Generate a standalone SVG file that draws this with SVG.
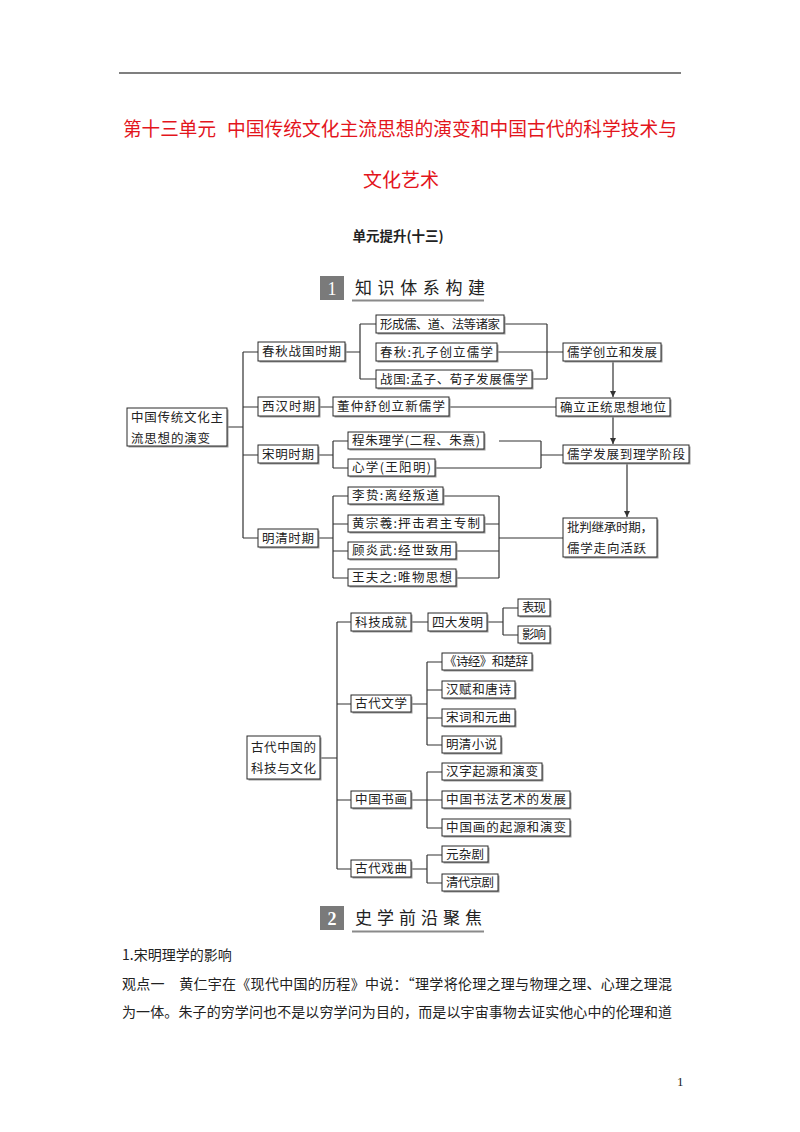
<svg xmlns="http://www.w3.org/2000/svg" width="800" height="1132" viewBox="0 0 800 1132">
<style>
.sh{fill:#9a9a9a}
.bx{fill:#fff;stroke:#2a2a2a;stroke-width:1}
.t{font-family:"Noto Sans CJK SC","Noto Sans CJK TC",sans-serif;font-size:12.5px;fill:#222}
.ln{fill:none;stroke:#333;stroke-width:1.2}
.title{font-family:"Noto Sans CJK SC",sans-serif;font-size:19px;fill:#e3151c}
.body{font-family:"Noto Sans CJK SC",sans-serif;font-size:14px;fill:#222}
.hd{font-family:"Noto Sans CJK SC",sans-serif;font-size:17px;fill:#222}
.num{font-family:"Liberation Serif",serif;font-size:18px;fill:#fff}
</style>
<defs>
<marker id="ar" viewBox="0 0 8 8" refX="8" refY="4" markerWidth="6" markerHeight="6" orient="auto" markerUnits="userSpaceOnUse">
<path d="M0,0 L8,4 L0,8 Z" fill="#333"/>
</marker>
</defs>
<rect width="800" height="1132" fill="#fff"/>
<line x1="119" y1="73" x2="681" y2="73" stroke="#555" stroke-width="1.5"/>
<text class="title" x="123" y="136" textLength="93" lengthAdjust="spacingAndGlyphs">第十三单元</text>
<text class="title" x="227" y="136" textLength="450" lengthAdjust="spacingAndGlyphs">中国传统文化主流思想的演变和中国古代的科学技术与</text>
<text class="title" x="401" y="187" text-anchor="middle">文化艺术</text>
<text x="398" y="241" text-anchor="middle" font-family="Noto Sans CJK SC, sans-serif" font-size="13.5" font-weight="bold" fill="#222">单元提升(十三)</text>

<g id="sec1">
<rect x="320" y="276" width="24" height="24" fill="#7a7a7a"/>
<text class="num" x="332" y="295" text-anchor="middle">1</text>
<text class="hd" x="355" y="294" textLength="130" lengthAdjust="spacing">知识体系构建</text>
<line x1="352" y1="300.5" x2="484" y2="300.5" stroke="#8a8a8a" stroke-width="2"/>
</g>

<g id="connectors">
<path class="ln" d="M227,427 H243 M243,352 V538 M243,352 H258 M243,407 H258 M243,455 H258 M243,538 H258"/>
<path class="ln" d="M345,352 H360 M360,324 V379 M360,324 H376 M360,379 H376"/>
<path class="ln" d="M504,324 H547 M532,379 H547 M547,324 V379 M497,352 H563"/>
<path class="ln" d="M319,407 H333 M449,407 H556"/>
<path class="ln" d="M318,455 H333 M333,441 V468 M333,441 H348 M333,468 H348"/>
<path class="ln" d="M499,441 H541 M435,468 H541 M541,441 V468 M541,455 H563"/>
<path class="ln" d="M318,538 H333 M333,496 V578 M333,496 H348 M333,524 H348 M333,551 H348 M333,578 H348"/>
<path class="ln" d="M443,496 H499 M484,524 H499 M456,551 H499 M456,578 H499 M499,496 V578 M499,538 H563"/>
<path class="ln" d="M613,361 V397" marker-end="url(#ar)"/>
<path class="ln" d="M613,416 V444" marker-end="url(#ar)"/>
<path class="ln" d="M627,464 V517" marker-end="url(#ar)"/>
<path class="ln" d="M320,758 H337 M337,622 V869 M337,622 H351 M337,704 H351 M337,800 H351 M337,869 H351"/>
<path class="ln" d="M411,622 H428 M487,622 H503 M503,608 V635 M503,608 H518 M503,635 H518"/>
<path class="ln" d="M411,704 H427 M427,662 V745 M427,662 H442 M427,690 H442 M427,718 H442 M427,745 H442"/>
<path class="ln" d="M411,800 H427 M427,772 V828 M427,772 H442 M427,800 H442 M427,828 H442"/>
<path class="ln" d="M411,869 H427 M427,855 V883 M427,855 H442 M427,883 H442"/>
</g>

<g id="n_root1"><rect class="sh" x="128.5" y="409.5" width="100" height="38"/><rect class="bx" x="127" y="408" width="100" height="38"/><text class="t" x="131" y="422" textLength="92" lengthAdjust="spacing">中国传统文化主</text><text class="t" x="131" y="442.5" textLength="79" lengthAdjust="spacing">流思想的演变</text></g>
<g id="n_cq"><rect class="sh" x="259.5" y="343.5" width="87" height="19"/><rect class="bx" x="258" y="342" width="87" height="19"/><text class="t" x="262" y="356" textLength="79" lengthAdjust="spacing">春秋战国时期</text></g>
<g id="n_xh"><rect class="sh" x="259.5" y="398.5" width="61" height="19"/><rect class="bx" x="258" y="397" width="61" height="19"/><text class="t" x="262" y="411" textLength="53" lengthAdjust="spacing">西汉时期</text></g>
<g id="n_sm"><rect class="sh" x="259.5" y="446.5" width="60" height="18"/><rect class="bx" x="258" y="445" width="60" height="18"/><text class="t" x="262" y="458.5" textLength="52" lengthAdjust="spacing">宋明时期</text></g>
<g id="n_mq"><rect class="sh" x="259.5" y="530.5" width="60" height="18"/><rect class="bx" x="258" y="529" width="60" height="18"/><text class="t" x="262" y="542.5" textLength="52" lengthAdjust="spacing">明清时期</text></g>
<g id="n_xc"><rect class="sh" x="377.5" y="316.5" width="128" height="18"/><rect class="bx" x="376" y="315" width="128" height="18"/><text class="t" x="380" y="328.5" textLength="120" lengthAdjust="spacing">形成儒、道、法等诸家</text></g>
<g id="n_cqkz"><rect class="sh" x="377.5" y="344.5" width="121" height="18"/><rect class="bx" x="376" y="343" width="121" height="18"/><text class="t" x="380" y="356.5" textLength="113" lengthAdjust="spacing">春秋:孔子创立儒学</text></g>
<g id="n_zg"><rect class="sh" x="377.5" y="371.5" width="156" height="18"/><rect class="bx" x="376" y="370" width="156" height="18"/><text class="t" x="380" y="383.5" textLength="148" lengthAdjust="spacing">战国:孟子、荀子发展儒学</text></g>
<g id="n_dzs"><rect class="sh" x="334.5" y="398.5" width="116" height="19"/><rect class="bx" x="333" y="397" width="116" height="19"/><text class="t" x="337" y="411" textLength="108" lengthAdjust="spacing">董仲舒创立新儒学</text></g>
<g id="n_cz"><rect class="sh" x="349.5" y="433.5" width="136" height="17"/><rect class="bx" x="348" y="432" width="136" height="17"/><text class="t" x="352" y="445" textLength="128" lengthAdjust="spacing">程朱理学(二程、朱熹)</text></g>
<g id="n_xx"><rect class="sh" x="349.5" y="460.5" width="87" height="17"/><rect class="bx" x="348" y="459" width="87" height="17"/><text class="t" x="352" y="472" textLength="79" lengthAdjust="spacing">心学(王阳明)</text></g>
<g id="n_lz"><rect class="sh" x="349.5" y="488.5" width="95" height="17"/><rect class="bx" x="348" y="487" width="95" height="17"/><text class="t" x="352" y="500" textLength="87" lengthAdjust="spacing">李贽:离经叛道</text></g>
<g id="n_hzx"><rect class="sh" x="349.5" y="516.5" width="136" height="17"/><rect class="bx" x="348" y="515" width="136" height="17"/><text class="t" x="352" y="528" textLength="128" lengthAdjust="spacing">黄宗羲:抨击君主专制</text></g>
<g id="n_gyw"><rect class="sh" x="349.5" y="543.5" width="108" height="17"/><rect class="bx" x="348" y="542" width="108" height="17"/><text class="t" x="352" y="555" textLength="100" lengthAdjust="spacing">顾炎武:经世致用</text></g>
<g id="n_wfz"><rect class="sh" x="349.5" y="570.5" width="108" height="17"/><rect class="bx" x="348" y="569" width="108" height="17"/><text class="t" x="352" y="582" textLength="100" lengthAdjust="spacing">王夫之:唯物思想</text></g>
<g id="n_rxcl"><rect class="sh" x="564.5" y="344.5" width="98" height="18"/><rect class="bx" x="563" y="343" width="98" height="18"/><text class="t" x="567" y="356.5" textLength="90" lengthAdjust="spacing">儒学创立和发展</text></g>
<g id="n_ql"><rect class="sh" x="557.5" y="399.5" width="114" height="18"/><rect class="bx" x="556" y="398" width="114" height="18"/><text class="t" x="560" y="411.5" textLength="106" lengthAdjust="spacing">确立正统思想地位</text></g>
<g id="n_lx"><rect class="sh" x="564.5" y="446.5" width="126" height="18"/><rect class="bx" x="563" y="445" width="126" height="18"/><text class="t" x="567" y="458.5" textLength="118" lengthAdjust="spacing">儒学发展到理学阶段</text></g>
<g id="n_pp"><rect class="sh" x="564.5" y="519.5" width="94" height="39"/><rect class="bx" x="563" y="518" width="94" height="39"/><text class="t" x="567" y="531.5" textLength="86" lengthAdjust="spacing">批判继承时期，</text><text class="t" x="567" y="552.5" textLength="79" lengthAdjust="spacing">儒学走向活跃</text></g>

<g id="n_root2"><rect class="sh" x="248.5" y="737.5" width="73" height="43"/><rect class="bx" x="247" y="736" width="73" height="43"/><text class="t" x="251" y="751.5" textLength="65" lengthAdjust="spacing">古代中国的</text><text class="t" x="251" y="772.5" textLength="65" lengthAdjust="spacing">科技与文化</text></g>
<g id="n_kjcj"><rect class="sh" x="352.5" y="614.5" width="60" height="18"/><rect class="bx" x="351" y="613" width="60" height="18"/><text class="t" x="355" y="626.5" textLength="52" lengthAdjust="spacing">科技成就</text></g>
<g id="n_sdfm"><rect class="sh" x="429.5" y="614.5" width="59" height="18"/><rect class="bx" x="428" y="613" width="59" height="18"/><text class="t" x="432" y="626.5" textLength="51" lengthAdjust="spacing">四大发明</text></g>
<g id="n_bx"><rect class="sh" x="519.5" y="600.5" width="32" height="17"/><rect class="bx" x="518" y="599" width="32" height="17"/><text class="t" x="522" y="612" textLength="24" lengthAdjust="spacing">表现</text></g>
<g id="n_yx"><rect class="sh" x="519.5" y="627.5" width="32" height="17"/><rect class="bx" x="518" y="626" width="32" height="17"/><text class="t" x="522" y="639" textLength="24" lengthAdjust="spacing">影响</text></g>
<g id="n_gdwx"><rect class="sh" x="352.5" y="696.5" width="60" height="17"/><rect class="bx" x="351" y="695" width="60" height="17"/><text class="t" x="355" y="708" textLength="52" lengthAdjust="spacing">古代文学</text></g>
<g id="n_sj"><rect class="sh" x="443.5" y="654.5" width="90" height="17"/><rect class="bx" x="442" y="653" width="90" height="17"/><text class="t" x="444" y="666" textLength="84" lengthAdjust="spacing">《诗经》和楚辞</text></g>
<g id="n_hf"><rect class="sh" x="443.5" y="682.5" width="73" height="17"/><rect class="bx" x="442" y="681" width="73" height="17"/><text class="t" x="446" y="694" textLength="65" lengthAdjust="spacing">汉赋和唐诗</text></g>
<g id="n_sc"><rect class="sh" x="443.5" y="710.5" width="73" height="17"/><rect class="bx" x="442" y="709" width="73" height="17"/><text class="t" x="446" y="722" textLength="65" lengthAdjust="spacing">宋词和元曲</text></g>
<g id="n_mqxs"><rect class="sh" x="443.5" y="737.5" width="59" height="17"/><rect class="bx" x="442" y="736" width="59" height="17"/><text class="t" x="446" y="749" textLength="51" lengthAdjust="spacing">明清小说</text></g>
<g id="n_zgsh"><rect class="sh" x="352.5" y="792.5" width="60" height="17"/><rect class="bx" x="351" y="791" width="60" height="17"/><text class="t" x="355" y="804" textLength="52" lengthAdjust="spacing">中国书画</text></g>
<g id="n_hz"><rect class="sh" x="443.5" y="764.5" width="100" height="17"/><rect class="bx" x="442" y="763" width="100" height="17"/><text class="t" x="446" y="776" textLength="92" lengthAdjust="spacing">汉字起源和演变</text></g>
<g id="n_sf"><rect class="sh" x="443.5" y="792.5" width="128" height="17"/><rect class="bx" x="442" y="791" width="128" height="17"/><text class="t" x="446" y="804" textLength="120" lengthAdjust="spacing">中国书法艺术的发展</text></g>
<g id="n_zgh"><rect class="sh" x="443.5" y="820.5" width="128" height="17"/><rect class="bx" x="442" y="819" width="128" height="17"/><text class="t" x="446" y="832" textLength="120" lengthAdjust="spacing">中国画的起源和演变</text></g>
<g id="n_gdxq"><rect class="sh" x="352.5" y="861.5" width="60" height="17"/><rect class="bx" x="351" y="860" width="60" height="17"/><text class="t" x="355" y="873" textLength="52" lengthAdjust="spacing">古代戏曲</text></g>
<g id="n_yzj"><rect class="sh" x="443.5" y="847.5" width="46" height="16"/><rect class="bx" x="442" y="846" width="46" height="16"/><text class="t" x="446" y="858.5" textLength="38" lengthAdjust="spacing">元杂剧</text></g>
<g id="n_jj"><rect class="sh" x="443.5" y="875.5" width="56" height="17"/><rect class="bx" x="442" y="874" width="56" height="17"/><text class="t" x="446" y="887" textLength="48" lengthAdjust="spacing">清代京剧</text></g>

<g id="sec2">
<rect x="320" y="906" width="24" height="24" fill="#7a7a7a"/>
<text class="num" x="332" y="925" text-anchor="middle" font-weight="bold">2</text>
<text class="hd" x="355" y="924" textLength="127" lengthAdjust="spacing">史学前沿聚焦</text>
<line x1="352" y1="931.5" x2="484" y2="931.5" stroke="#8a8a8a" stroke-width="2"/>
</g>

<text class="body" x="122" y="960">1.宋明理学的影响</text>
<text class="body" x="122" y="988.5" textLength="550" lengthAdjust="spacing">观点一　黄仁宇在《现代中国的历程》中说：“理学将伦理之理与物理之理、心理之理混</text>
<text class="body" x="122" y="1017" textLength="550" lengthAdjust="spacing">为一体。朱子的穷学问也不是以穷学问为目的，而是以宇宙事物去证实他心中的伦理和道</text>
<text x="677" y="1086" font-family="Liberation Serif, serif" font-size="13" fill="#222">1</text>
</svg>
